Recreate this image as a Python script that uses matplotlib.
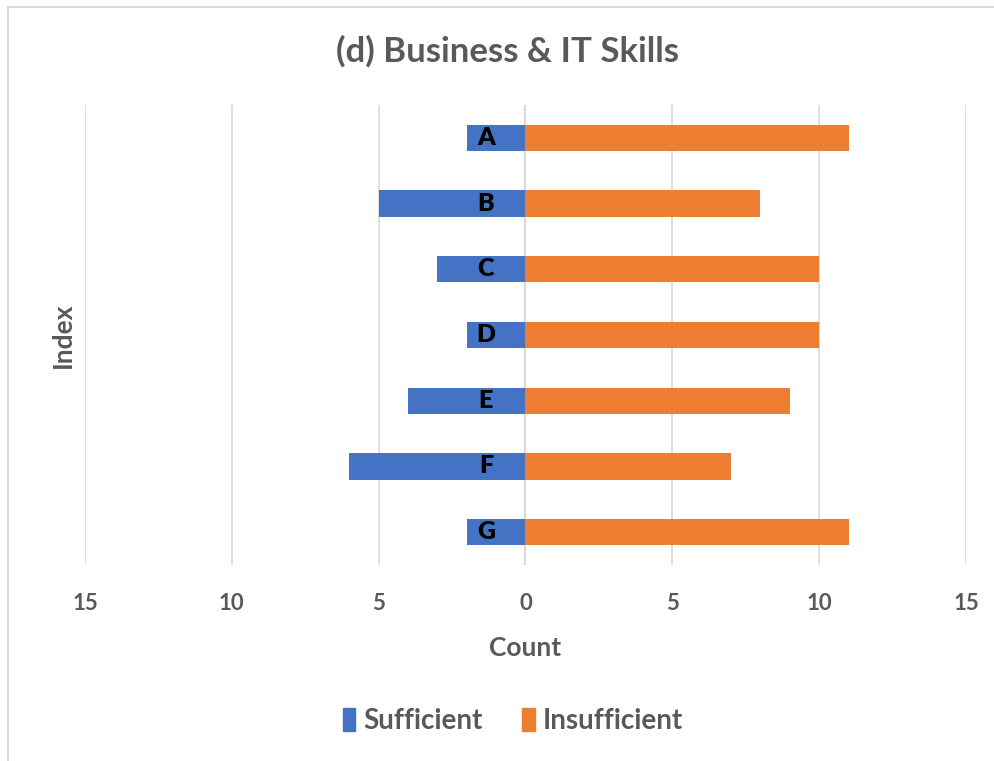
import matplotlib
matplotlib.use("Agg")
import matplotlib.pyplot as plt
from matplotlib.lines import Line2D
from matplotlib.patches import Patch

categories = ["A", "B", "C", "D", "E", "F", "G"]
sufficient = [2, 5, 3, 2, 4, 6, 2]
insufficient = [11, 8, 10, 10, 9, 7, 11]
tick_values = [-15, -10, -5, 0, 5, 10, 15]
tick_labels = ["15", "10", "5", "0", "5", "10", "15"]

BLUE = "#4472C4"
ORANGE = "#ED7D31"
GREY = "#595959"
GRID = "#D9D9D9"

plt.rcParams["font.family"] = ["Lato", "DejaVu Sans"]
plt.rcParams["font.weight"] = "bold"

W, H = 995, 761
fig = plt.figure(figsize=(W / 100, H / 100), dpi=100)
ax = fig.add_axes([85 / W, 1 - 565 / H, (966 - 85) / W, (565 - 105) / H])

y = list(range(len(categories)))
ax.barh(y, [-v for v in sufficient], height=0.4, color=BLUE, zorder=3, label="Sufficient")
ax.barh(y, insufficient, height=0.4, color=ORANGE, zorder=3, label="Insufficient")

for yi, c in zip(y, categories):
    ax.text(-1.35, yi, c, ha="center", va="center", fontsize=18, fontweight="heavy",
            color="black", zorder=4)

ax.set_xlim(-15, 15)
ax.set_ylim(len(categories) - 0.5, -0.5)
ax.set_xticks(tick_values)
ax.set_xticklabels(tick_labels, fontsize=16, fontweight="bold", color=GREY)
ax.set_yticks([])
ax.tick_params(axis="x", length=0, pad=20)
ax.grid(axis="x", color=GRID, linewidth=1.2, zorder=0)
ax.axvline(0, color=GRID, linewidth=1.5, zorder=2)
for s in ax.spines.values():
    s.set_visible(False)

ax.set_xlabel("Count", fontsize=19, fontweight="bold", color=GREY, labelpad=16)
fig.text(63 / W, 1 - 335 / H, "Index", rotation=90, ha="center", va="center",
         fontsize=19, fontweight="bold", color=GREY)
fig.text(508 / W, 1 - 51 / H, "(d) Business & IT Skills", ha="center", va="center",
         fontsize=25, fontweight="bold", color=GREY)

handles = [Patch(color=BLUE, label="Sufficient"), Patch(color=ORANGE, label="Insufficient")]
fig.legend(handles=handles, loc="center", bbox_to_anchor=(513 / W, 1 - 721 / H), ncol=2,
           frameon=False, handlelength=0.45, handleheight=0.9,
           handletextpad=0.3, columnspacing=1.4, labelcolor=GREY,
           prop={"weight": "bold", "size": 20})

# outer chart border (top and left edges)
fig.add_artist(Line2D([8 / W, 8 / W], [0, 1 - 7 / H], color=GRID, linewidth=1.5))
fig.add_artist(Line2D([8 / W, 994 / W], [1 - 7 / H, 1 - 7 / H], color=GRID, linewidth=1.5))

fig.savefig("out.png", dpi=100)
